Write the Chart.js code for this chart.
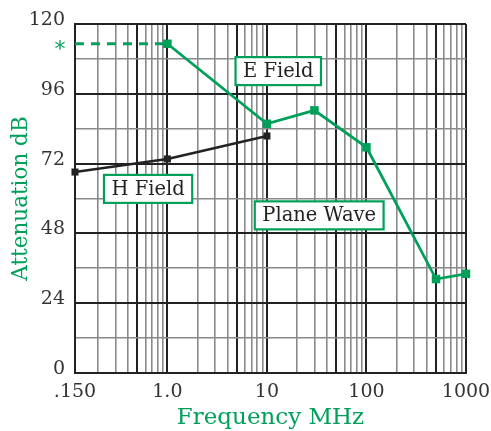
<!DOCTYPE html>
<html><head><meta charset="utf-8">
<script src="https://cdn.jsdelivr.net/npm/chart.js@4/dist/chart.umd.min.js"></script>
<style>html,body{margin:0;padding:0;background:#fff}#wrap{width:491px;height:431px}</style>
</head><body><div id="wrap"><canvas id="c" width="491" height="431"></canvas></div>
<script>
// ---- data ----
const X_START = 0.118;            // left edge of the frequency axis (labelled ".150")
const X_END = 1000;
const xLabelText = ['.150', '1.0', '10', '100', '1000'];
const xLabelValues = [X_START, 1, 10, 100, 1000];
const yMajorTicks = [0, 24, 48, 72, 96, 120];

const eFieldFreq = [1, 10, 30, 100, 500, 1000];
const eFieldDb   = [113.2, 85.7, 90.3, 77.6, 32.3, 34.1];
const eDashFreq  = [X_START, 1];
const eDashDb    = [113.2, 113.2];
const hFieldFreq = [X_START, 1, 10];
const hFieldDb   = [69.1, 73.6, 81.5];

const labels = [
  {text: 'E Field',    freq: 13.0, db: 103.8},
  {text: 'H Field',    freq: 0.64, db: 63.3},
  {text: 'Plane Wave', freq: 33.5, db: 54.2}
];

// ---- styles ----
const GREEN = '#00a05a';
const DARK = '#222222';
const GRAY = '#8a8a8a';
const FONT = "'DejaVu Serif', serif";

const xGrid = [X_START];
[0.1, 1, 10, 100].forEach(d => { for (let k = 1; k <= 9; k++) { const v = +(d * k).toPrecision(3); if (v > X_START) xGrid.push(v); } });
xGrid.push(1000);
const xMajor = [X_START, 0.5, 1, 5, 10, 50, 100, 500, 1000];
const isMajorX = v => xMajor.some(m => Math.abs(m - v) < 1e-9);

const zip = (a, b) => a.map((x, i) => ({x, y: b[i]}));

const overlay = {
  id: 'overlay',
  afterDatasetsDraw(chart) {
    const {ctx, scales: {x, y}, chartArea} = chart;
    ctx.save();
    // asterisk marking the dashed extension
    ctx.fillStyle = GREEN;
    ctx.font = "22px 'DejaVu Sans'";
    ctx.textAlign = 'center';
    ctx.textBaseline = 'alphabetic';
    ctx.fillText('*', chartArea.left - 15, y.getPixelForValue(eDashDb[0]) + 12);
    // boxed labels
    ctx.font = '19.5px ' + FONT;
    labels.forEach(l => {
      const cx = x.getPixelForValue(l.freq), cy = y.getPixelForValue(l.db);
      const w = ctx.measureText(l.text).width + 15, h = 28;
      ctx.fillStyle = '#fff';
      ctx.fillRect(cx - w / 2, cy - h / 2, w, h);
      ctx.strokeStyle = GREEN; ctx.lineWidth = 2.2;
      ctx.strokeRect(cx - w / 2, cy - h / 2, w, h);
      ctx.fillStyle = DARK;
      ctx.textAlign = 'center'; ctx.textBaseline = 'middle';
      ctx.fillText(l.text, cx, cy + 1);
    });
    ctx.restore();
  }
};

new Chart(document.getElementById('c'), {
  type: 'scatter',
  data: {
    datasets: [
      {data: zip(eDashFreq, eDashDb), showLine: true, borderColor: GREEN, borderWidth: 3, borderDash: [9, 7], pointRadius: 0, clip: false},
      {data: zip(hFieldFreq, hFieldDb), showLine: true, borderColor: DARK, backgroundColor: DARK, borderWidth: 2.6,
       pointStyle: 'rect', pointRadius: 5, pointBorderWidth: 0, clip: false},
      {data: zip(eFieldFreq, eFieldDb), showLine: true, borderColor: GREEN, backgroundColor: GREEN, borderWidth: 2.8,
       pointStyle: 'rect', pointRadius: 6, pointBorderWidth: 0, clip: false}
    ]
  },
  options: {
    responsive: false, animation: false, devicePixelRatio: 1,
    layout: {padding: {top: 24, right: 25, left: 0, bottom: 0}},
    plugins: {legend: {display: false}, tooltip: {enabled: false}},
    scales: {
      x: {
        type: 'logarithmic', min: X_START, max: X_END,
        afterBuildTicks: s => { s.ticks = xGrid.map(v => ({value: v})); },
        afterFit: s => { s.height = 58; s.paddingLeft = 0; s.paddingRight = 0; },
        ticks: {
          autoSkip: false, maxRotation: 0, minRotation: 0, padding: 8, color: '#333',
          font: {family: FONT, size: 19},
          callback: v => { const i = xLabelValues.findIndex(m => Math.abs(m - v) < 1e-9); return i >= 0 ? xLabelText[i] : ''; }
        },
        grid: {drawTicks: false, color: c => isMajorX(c.tick.value) ? DARK : GRAY, lineWidth: c => isMajorX(c.tick.value) ? 2 : 1.6},
        border: {color: DARK, width: 2},
        title: {display: true, text: 'Frequency MHz', color: GREEN, font: {family: FONT, size: 23, lineHeight: 1}, padding: {top: 0, bottom: 1}}
      },
      y: {
        min: 0, max: 120,
        afterFit: s => { s.width = 75; },
        ticks: {
          stepSize: 12, padding: 10, color: '#333', labelOffset: -4,
          font: {family: FONT, size: 19},
          callback: v => yMajorTicks.includes(v) ? String(v) : ''
        },
        grid: {drawTicks: false, color: c => c.tick.value % 24 === 0 ? DARK : GRAY, lineWidth: c => c.tick.value % 24 === 0 ? 2 : 1.6},
        border: {color: DARK, width: 2},
        title: {display: true, text: 'Attenuation dB', color: GREEN, font: {family: FONT, size: 21.5, lineHeight: 1}, padding: {top: 11, bottom: 0}}
      }
    }
  },
  plugins: [overlay]
});
</script></body></html>
